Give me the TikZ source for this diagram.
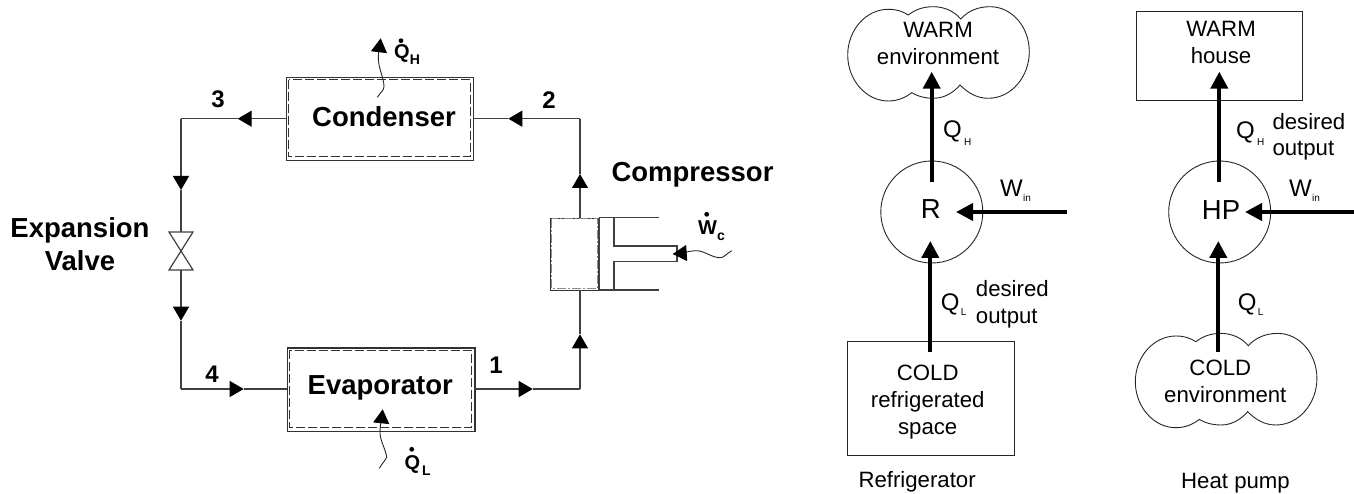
\documentclass[tikz,border=0pt]{standalone}
\usepackage{fontspec}
\setmainfont{Liberation Sans}
\usetikzlibrary{arrows.meta}
\newcommand{\subtxt}[3]{\hspace{#1pt}\raisebox{-#2pt}{\fontsize{10}{12}\selectfont #3}}
\newcommand{\blobpath}{(60.6,8) .. controls (68.3,2) and (76.3,-0.3) .. (85.6,-0.3)
 .. controls (96.3,-0.3) and (106.3,4) .. (113,12)
 .. controls (120.3,4) and (130.3,-0.3) .. (142.3,-0.3)
 .. controls (164.3,-0.3) and (181.6,20) .. (181.6,44.7)
 .. controls (181.6,70) and (163.3,91.3) .. (140.6,91.3)
 .. controls (128.3,91.3) and (119.3,85) .. (112.3,78)
 .. controls (106.3,85) and (97.3,91.3) .. (85.6,91.3)
 .. controls (77.3,91.3) and (69.3,89) .. (64,85.7)
 .. controls (57.3,91) and (49.3,94) .. (40.6,94)
 .. controls (18.3,94) and (0,73) .. (0,48)
 .. controls (0,23) and (18.3,2.3) .. (40.6,2.3)
 .. controls (48.3,2.3) and (54.3,4) .. (60.6,8) -- cycle}
\tikzset{
 pipe/.style={draw=black!75,line width=1.2pt},
 flow/.style={pipe,-{Triangle[length=14pt,width=16pt,color=black,fill=black]}},
 wave/.style={draw=black!85,line width=0.9pt},
 wavehead/.style={wave,-{Triangle[length=14pt,width=16pt,color=black,fill=black]}},
 unitbox/.style={draw=black!80,line width=1.2pt,inner sep=0pt,anchor=north west},
 inset/.style={draw=black!80,dash pattern=on 9pt off 3pt,line width=1pt},
 bigarrow/.style={line width=4pt,-{Triangle[length=17pt,width=17pt]}},
 thin box/.style={draw=black!85,line width=0.9pt,inner sep=0pt,anchor=north west},
 engine/.style={draw=black!85,line width=0.9pt,circle,inner sep=0pt,minimum size=102pt},
 heavy/.style={inner sep=0pt,font=\bfseries\fontsize{27.5}{32.3}\selectfont,align=center},
 digit/.style={inner sep=0pt,font=\bfseries\fontsize{24}{28}\selectfont,anchor=base},
 plain/.style={inner sep=0pt,font=\fontsize{22.2}{26.8}\selectfont,align=center},
 plainleft/.style={inner sep=0pt,font=\fontsize{22.2}{26.6}\selectfont,align=left},
 symbol/.style={inner sep=0pt,font=\fontsize{24}{28}\selectfont,anchor=base west},
 letter/.style={inner sep=0pt,font=\fontsize{27.5}{30}\selectfont,anchor=base},
 rate/.style={inner sep=0pt,font=\bfseries\fontsize{20}{22}\selectfont,anchor=base west},
 ratedot/.style={fill=black,draw=none},
}
\begin{document}
\begin{tikzpicture}[x=1pt,y=-1pt]
\useasboundingbox (0,0) rectangle (1354,494);
% ---------- cycle ----------
\node[unitbox,minimum width=187.3pt,minimum height=83.3pt] (cond) at (285.7,76.7) {};
\node[unitbox,minimum width=187.6pt,minimum height=83.4pt] (evap) at (286.7,347.3) {};
\node[unitbox,minimum width=49pt,minimum height=72.3pt] (cyl) at (550,217.7) {};
\draw[inset] (288.7,79.7) rectangle (470,157);
\draw[inset] (289.7,350.3) rectangle (471.3,427.7);
\draw[draw=black!45,dash pattern=on 9pt off 2pt on 2pt off 2pt,line width=1pt] (551.5,219) rectangle (597.5,288.7);
\node[heavy,anchor=base] (lcond) at (384,126.7) {Condenser};
\node[heavy,anchor=base] (levap) at (380.3,394) {Evaporator};
\node[heavy,anchor=base] (lcomp) at (692.5,181.7) {Compressor};
\node[heavy,anchor=base] (lexp) at (80,270) {Expansion\\Valve};
\node[digit] (n1) at (496,373) {1};
\node[digit] (n2) at (549,109) {2};
\node[digit] (n3) at (218,108) {3};
\node[digit] (n4) at (212,382.7) {4};
% corners and tips
\coordinate (c2) at (580,118.7);
\coordinate (c3) at (181,118.7);
\coordinate (c4) at (181,389);
\coordinate (c1) at (580,389);
\coordinate (t2) at (508.3,118.7);
\coordinate (t3) at (237.7,118.7);
\coordinate (t3d) at (181,190);
\coordinate (t4d) at (181,320.7);
\coordinate (t4) at (243.7,389);
\coordinate (t1) at (532.7,389);
\coordinate (t1u) at (580,334.3);
\coordinate (t2u) at (580,174);
\coordinate (cyltop) at (580,217.7);
\coordinate (cylbot) at (580,290);
\coordinate (vtop) at (181,232);
\coordinate (vmid) at (181,251);
\coordinate (vbot) at (181,270);
\coordinate (evw) at (286.7,389);
\coordinate (eve) at (474.3,389);
\coordinate (cow) at (285.7,118.7);
\coordinate (coe) at (473,118.7);
% pipes
\draw[pipe] (t3) -- (c3) (t3d) -- (vtop);
\draw[flow] (cow) -- (t3);
\draw[flow] (c3) -- (t3d);
\draw[pipe] (t4d) -- (c4) (t4) -- (evw);
\draw[flow] (vbot) -- (t4d);
\draw[flow] (c4) -- (t4);
\draw[pipe] (t1) -- (c1) (t1u) -- (cylbot);
\draw[flow] (eve) -- (t1);
\draw[flow] (c1) -- (t1u);
\draw[pipe] (t2u) -- (c2) (t2) -- (coe);
\draw[flow] (cyltop) -- (t2u);
\draw[flow] (c2) -- (t2);
% valve
\draw[pipe,line join=miter] (169,232) -- (193,232) -- (vmid) -- cycle;
\draw[pipe,line join=miter] (169,270) -- (193,270) -- (vmid) -- cycle;
% piston
\draw[pipe] (599,217.7) -- (659,217.7);
\draw[pipe] (599,290) -- (659,290);
\draw[pipe] (614,217.7) -- (614,246) -- (677,246) -- (677,261.7) -- (614,261.7) -- (614,290);
\draw[pipe] (599,217.7) -- (599,290);
% heat and work
\draw[wavehead] (377.3,97.3) .. controls (381,92) and (384,90) .. (384,86.7) .. controls (384,78) and (378,68) .. (378.3,56.7) .. controls (378.5,50) and (380,44) .. (380.7,38.3);
\draw[wavehead] (379.3,468.3) .. controls (383,462) and (386.7,459) .. (386.7,456.7) .. controls (385,448) and (380,440) .. (380,433) .. controls (380,424) and (382,416) .. (382.7,409.3);
\draw[wavehead] (731.7,250.7) .. controls (726,254) and (724,257.7) .. (720,257.7) .. controls (712,257.7) and (704,250.7) .. (696.7,250.7) .. controls (690,250.7) and (680,253.5) .. (672.7,254);
\node[rate] (qh) at (394,59) {Q\raisebox{-6pt}{\fontsize{14}{16}\selectfont H}};
\fill[ratedot] (401,40.7) circle (2.4);
\node[rate] (ql) at (404.3,469) {Q\hspace{2pt}\raisebox{-6pt}{\fontsize{14}{16}\selectfont L}};
\fill[ratedot] (411.7,449.3) circle (2.4);
\node[rate] (wc) at (698,235) {W\raisebox{-6pt}{\fontsize{14}{16}\selectfont c}};
\fill[ratedot] (706.7,214.3) circle (2.4);
% ---------- refrigerator ----------
\begin{scope}[shift={(847.7,7)}]
\draw[draw=black!85,line width=0.9pt] \blobpath;
\end{scope}
\node[plain,anchor=base] (warm1) at (938,64.3) {WARM\\environment};
\node[engine] (r) at (931.8,212) {};
\node[letter] (lr) at (930.7,218.8) {R};
\node[thin box,minimum width=167pt,minimum height=114.3pt] (coldbox) at (847.3,340.7) {};
\node[plain,anchor=base] (cold1) at (927.7,434.3) {COLD\\refrigerated\\space};
\coordinate (ra) at (931.7,181.7);
\coordinate (rb) at (931.7,71.7);
\coordinate (rc) at (930.3,351.7);
\coordinate (rd) at (930.3,241);
\coordinate (re) at (1066.7,212);
\coordinate (rf) at (956,212);
\draw[bigarrow] (ra) -- (rb);
\draw[bigarrow] (rc) -- (rd);
\draw[bigarrow] (re) -- (rf);
\node[symbol] (q1) at (943,138) {Q\subtxt{2.3}{7.5}{H}};
\node[symbol] (w1) at (1000,196.7) {W\subtxt{0.3}{5}{in}};
\node[symbol] (q2) at (940.7,310) {Q\subtxt{1.3}{5}{L}};
\node[plainleft,anchor=base west] (des1) at (975.7,323.3) {desired\\output};
\node[plain,anchor=base west] (cap1) at (858.3,487.7) {Refrigerator};
% ---------- heat pump ----------
\node[thin box,minimum width=166.6pt,minimum height=89pt] (warmbox) at (1135.7,11) {};
\node[plain,anchor=base] (warm2) at (1221,63.3) {WARM\\house};
\node[engine] (hp) at (1219.7,212) {};
\node[letter] (lhp) at (1221,220) {HP};
\begin{scope}[shift={(1135.3,333.7)}]
\draw[draw=black!85,line width=0.9pt] \blobpath;
\end{scope}
\node[plain,anchor=base] (cold2) at (1225.3,402.7) {\hspace{-10pt}COLD\\environment};
\coordinate (ha) at (1219.3,181.7);
\coordinate (hb) at (1219.3,71.7);
\coordinate (hc) at (1218.3,351.7);
\coordinate (hd) at (1218.3,241);
\coordinate (he) at (1354,212);
\coordinate (hf) at (1245,212);
\draw[bigarrow] (ha) -- (hb);
\draw[bigarrow] (hc) -- (hd);
\draw[bigarrow] (he) -- (hf);
\node[symbol] (q3) at (1236,138.3) {Q\subtxt{2.3}{7.5}{H}};
\node[plainleft,anchor=base west] (des2) at (1272.3,155.7) {desired\\output};
\node[symbol] (w2) at (1289,196.7) {W\subtxt{0.3}{5}{in}};
\node[symbol] (q4) at (1237.7,310) {Q\subtxt{1.3}{5}{L}};
\node[plain,anchor=base west] (cap2) at (1181,488) {Heat pump};
\end{tikzpicture}
\end{document}
